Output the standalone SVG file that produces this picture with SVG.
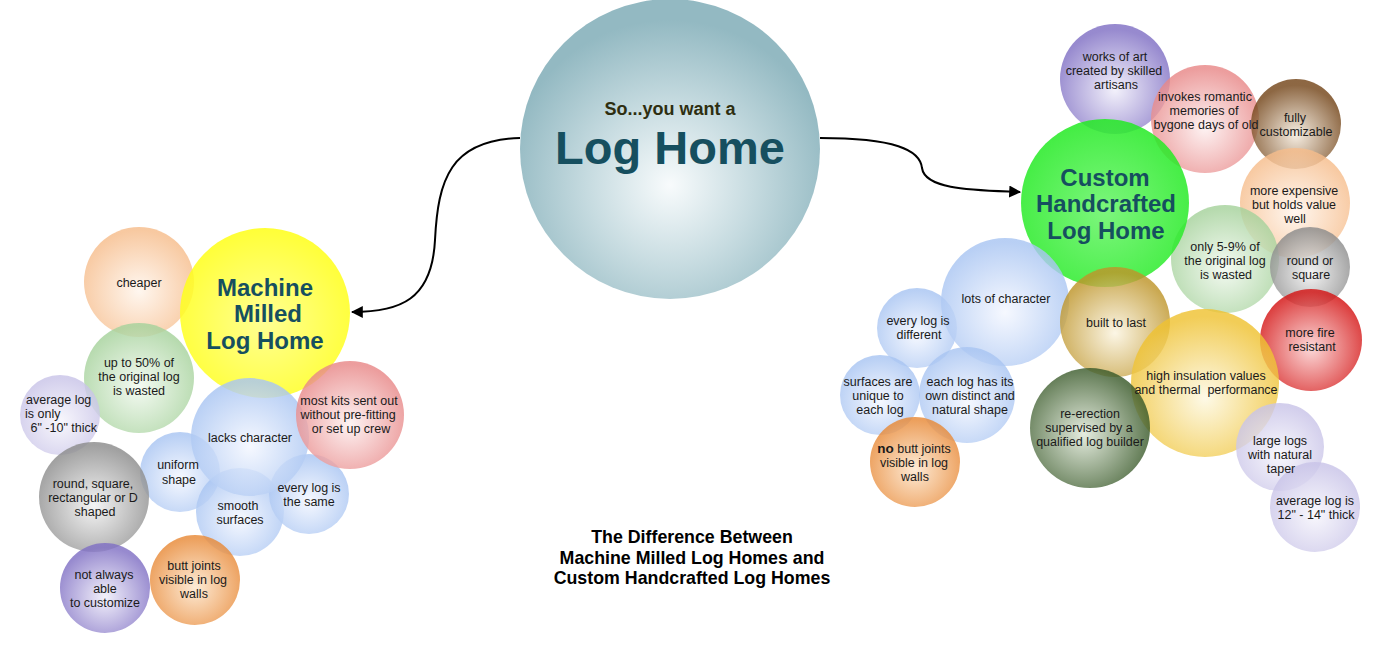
<svg xmlns="http://www.w3.org/2000/svg" width="1381" height="654" viewBox="0 0 1381 654">
<style>
.b{fill-opacity:0.82}
.t{font-family:"Liberation Sans",Arial,sans-serif;font-size:12.5px;fill:#1a1a1a;text-anchor:middle}
.h{font-family:"Liberation Sans",Arial,sans-serif;font-size:24px;font-weight:bold;fill:#164f5f;text-anchor:middle}
.ttl{font-family:"Liberation Sans",Arial,sans-serif;font-size:17.8px;font-weight:bold;fill:#000;text-anchor:middle}
.con{fill:none;stroke:#000;stroke-width:2}
</style>
<defs>
<marker id="ah" viewBox="0 0 10 10" refX="9" refY="5" markerWidth="6" markerHeight="6" orient="auto-start-reverse" markerUnits="strokeWidth">
<path d="M0,0 L10,5 L0,10 z" fill="#000"/>
</marker>
<radialGradient id="gMain" cx="50%" cy="62%" r="55%"><stop offset="0" stop-color="#f8fbfc"/><stop offset="0.5" stop-color="#c6dbe0"/><stop offset="1" stop-color="#93b9c2"/></radialGradient>
<radialGradient id="gBlue" cx="50%" cy="58%" r="55%"><stop offset="0" stop-color="#f4f7ff"/><stop offset="1" stop-color="#a9c5f2"/></radialGradient>
<radialGradient id="gPeach" cx="50%" cy="58%" r="55%"><stop offset="0" stop-color="#fff5ec"/><stop offset="1" stop-color="#f6bd8c"/></radialGradient>
<radialGradient id="gLGreen" cx="50%" cy="58%" r="55%"><stop offset="0" stop-color="#f2f9f0"/><stop offset="1" stop-color="#a6d29c"/></radialGradient>
<radialGradient id="gLav" cx="50%" cy="58%" r="55%"><stop offset="0" stop-color="#f7f6fc"/><stop offset="1" stop-color="#c9c4e8"/></radialGradient>
<radialGradient id="gPink" cx="50%" cy="58%" r="55%"><stop offset="0" stop-color="#fdf0f0"/><stop offset="1" stop-color="#e88888"/></radialGradient>
<radialGradient id="gGray" cx="50%" cy="58%" r="55%"><stop offset="0" stop-color="#f2f2f2"/><stop offset="1" stop-color="#8c8c8c"/></radialGradient>
<radialGradient id="gPurple" cx="50%" cy="60%" r="55%"><stop offset="0" stop-color="#f0eefa"/><stop offset="1" stop-color="#8070c4"/></radialGradient>
<radialGradient id="gOrange" cx="50%" cy="58%" r="55%"><stop offset="0" stop-color="#fde6cc"/><stop offset="1" stop-color="#e88a38"/></radialGradient>
<radialGradient id="gBrown" cx="50%" cy="62%" r="55%"><stop offset="0" stop-color="#f4eadc"/><stop offset="1" stop-color="#74461a"/></radialGradient>
<radialGradient id="gRed" cx="50%" cy="58%" r="55%"><stop offset="0" stop-color="#fbd0d0"/><stop offset="1" stop-color="#d41414"/></radialGradient>
<radialGradient id="gGold" cx="50%" cy="60%" r="55%"><stop offset="0" stop-color="#fbf4e0"/><stop offset="1" stop-color="#be952a"/></radialGradient>
<radialGradient id="gYel" cx="50%" cy="60%" r="55%"><stop offset="0" stop-color="#fdf8e2"/><stop offset="1" stop-color="#efc232"/></radialGradient>
<radialGradient id="gDGreen" cx="45%" cy="55%" r="55%"><stop offset="0" stop-color="#dfe8d8"/><stop offset="1" stop-color="#3a5a2a"/></radialGradient>
<radialGradient id="gYMain" cx="50%" cy="55%" r="55%"><stop offset="0" stop-color="#ffff80"/><stop offset="1" stop-color="#ffff14"/></radialGradient>
<radialGradient id="gGMain" cx="50%" cy="55%" r="55%"><stop offset="0" stop-color="#66f466"/><stop offset="1" stop-color="#22ea22"/></radialGradient>
</defs>

<g id="connectors">
<path class="con" d="M520,138 C450,140 438,180 435,240 C432,300 400,312 352,312" marker-end="url(#ah)"/>
<path class="con" d="M820,138 C895,138 920,150 922,168 C925,190 975,190 1020,192" marker-end="url(#ah)"/>
</g>

<g id="main">
<circle cx="670" cy="149" r="150" fill="url(#gMain)"/>
<text x="670" y="115" style="font-family:'Liberation Sans',Arial,sans-serif;font-size:18px;font-weight:bold;fill:#2e2e10;text-anchor:middle">So...you want a</text>
<text x="670" y="164" style="font-family:'Liberation Sans',Arial,sans-serif;font-size:47px;font-weight:bold;fill:#164f5f;text-anchor:middle">Log Home</text>
</g>

<!-- Bubbles (shapes) -->
<g id="cheaper"><circle class="b" cx="139" cy="282" r="55" fill="url(#gPeach)"/></g>
<g id="wasted50"><circle class="b" cx="139" cy="378" r="55" fill="url(#gLGreen)"/></g>
<g id="avg6"><circle class="b" cx="60" cy="415" r="40" fill="url(#gLav)"/></g>
<g id="machine"><circle cx="265" cy="313" r="85" fill="url(#gYMain)" fill-opacity="0.85"/></g>
<g id="uniform"><circle class="b" cx="180" cy="472" r="40" fill="url(#gBlue)"/></g>
<g id="smooth"><circle class="b" cx="240" cy="512" r="44" fill="url(#gBlue)"/></g>
<g id="same"><circle class="b" cx="309" cy="494" r="40" fill="url(#gBlue)"/></g>
<g id="lacks"><circle class="b" cx="250" cy="437" r="59" fill="url(#gBlue)"/></g>
<g id="kits"><circle class="b" cx="350" cy="415" r="54" fill="url(#gPink)"/></g>
<g id="roundD"><circle class="b" cx="94" cy="497" r="55" fill="url(#gGray)"/></g>
<g id="notalways"><circle class="b" cx="105" cy="588" r="45" fill="url(#gPurple)"/></g>
<g id="buttL"><circle class="b" cx="195" cy="580" r="45" fill="url(#gOrange)"/></g>

<g id="art"><circle class="b" cx="1115" cy="79" r="55" fill="url(#gPurple)"/></g>
<g id="romantic"><circle class="b" cx="1205" cy="119" r="54" fill="url(#gPink)"/></g>
<g id="customizable"><circle class="b" cx="1296" cy="124" r="45" fill="url(#gBrown)"/></g>
<g id="expensive"><circle class="b" cx="1295" cy="203" r="55" fill="url(#gPeach)"/></g>
<g id="wasted5"><circle class="b" cx="1225" cy="259" r="54" fill="url(#gLGreen)"/></g>
<g id="roundsq"><circle class="b" cx="1310" cy="267" r="40" fill="url(#gGray)"/></g>
<g id="fire"><circle class="b" cx="1311" cy="340" r="51" fill="url(#gRed)"/></g>
<g id="custom"><circle cx="1105" cy="203" r="84" fill="url(#gGMain)" fill-opacity="0.85"/></g>
<g id="different"><circle class="b" cx="917" cy="328" r="40" fill="url(#gBlue)"/></g>
<g id="lots"><circle class="b" cx="1005" cy="302" r="64" fill="url(#gBlue)"/></g>
<g id="unique"><circle class="b" cx="880" cy="395" r="40" fill="url(#gBlue)"/></g>
<g id="distinct"><circle class="b" cx="967" cy="395" r="48" fill="url(#gBlue)"/></g>
<g id="buttR"><circle class="b" cx="915" cy="462" r="45" fill="url(#gOrange)"/></g>
<g id="built"><circle class="b" cx="1115" cy="322" r="55" fill="url(#gGold)"/></g>
<g id="insulation"><circle class="b" cx="1205" cy="383" r="74" fill="url(#gYel)"/></g>
<g id="reerection"><circle class="b" cx="1090" cy="428" r="60" fill="url(#gDGreen)"/></g>
<g id="large"><circle class="b" cx="1280" cy="447" r="44" fill="url(#gLav)"/></g>
<g id="avg12"><circle class="b" cx="1315" cy="507" r="45" fill="url(#gLav)"/></g>

<!-- Labels (drawn on top of all bubbles) -->
<g id="labels">
<g id="cheaper-label"><text class="t" x="139" y="287">cheaper</text></g>
<g id="wasted50-label"><text class="t" x="139" y="367">up to 50% of</text><text class="t" x="139" y="381">the original log</text><text class="t" x="139" y="395">is wasted</text></g>
<g id="avg6-label"><text class="t" x="26" y="404" style="text-anchor:start">average log</text><text class="t" x="25" y="418" style="text-anchor:start">is only</text><text class="t" x="27" y="432" style="text-anchor:start" xml:space="preserve"> 6" -10" thick</text></g>
<g id="machine-label"><text class="h" x="265" y="296">Machine</text><text class="h" x="268" y="322">Milled</text><text class="h" x="265" y="349">Log Home</text></g>
<g id="uniform-label"><text class="t" x="178" y="469">uniform</text><text class="t" x="179" y="484">shape</text></g>
<g id="smooth-label"><text class="t" x="238" y="510">smooth</text><text class="t" x="240" y="524">surfaces</text></g>
<g id="same-label"><text class="t" x="309" y="492">every log is</text><text class="t" x="309" y="506">the same</text></g>
<g id="lacks-label"><text class="t" x="250" y="442">lacks character</text></g>
<g id="kits-label"><text class="t" x="349" y="405">most kits sent out</text><text class="t" x="348" y="419">without pre-fitting</text><text class="t" x="351" y="433">or set up crew</text></g>
<g id="roundD-label"><text class="t" x="93" y="488">round, square,</text><text class="t" x="93" y="502">rectangular or D</text><text class="t" x="95" y="516">shaped</text></g>
<g id="notalways-label"><text class="t" x="104" y="579">not always</text><text class="t" x="105" y="593">able</text><text class="t" x="105" y="607">to customize</text></g>
<g id="buttL-label"><text class="t" x="194" y="570">butt joints</text><text class="t" x="193" y="584">visible in log</text><text class="t" x="194" y="598">walls</text></g>

<g id="art-label"><text class="t" x="1115" y="61">works of art</text><text class="t" x="1114" y="75">created by skilled</text><text class="t" x="1116" y="89">artisans</text></g>
<g id="romantic-label"><text class="t" x="1205" y="101">invokes romantic</text><text class="t" x="1204" y="115">memories of</text><text class="t" x="1206" y="129">bygone days of old</text></g>
<g id="customizable-label"><text class="t" x="1295" y="122">fully</text><text class="t" x="1296" y="136">customizable</text></g>
<g id="expensive-label"><text class="t" x="1294" y="195">more expensive</text><text class="t" x="1294" y="209">but holds value</text><text class="t" x="1295" y="223">well</text></g>
<g id="wasted5-label"><text class="t" x="1225" y="251">only 5-9% of</text><text class="t" x="1225" y="265">the original log</text><text class="t" x="1226" y="279">is wasted</text></g>
<g id="roundsq-label"><text class="t" x="1310" y="265">round or</text><text class="t" x="1311" y="279">square</text></g>
<g id="fire-label"><text class="t" x="1310" y="337">more fire</text><text class="t" x="1312" y="351">resistant</text></g>
<g id="custom-label"><text class="h" x="1105" y="186">Custom</text><text class="h" x="1106" y="212">Handcrafted</text><text class="h" x="1106" y="239">Log Home</text></g>
<g id="different-label"><text class="t" x="918" y="325">every log is</text><text class="t" x="919" y="339">different</text></g>
<g id="lots-label"><text class="t" x="1006" y="303">lots of character</text></g>
<g id="unique-label"><text class="t" x="878" y="386">surfaces are</text><text class="t" x="878" y="400">unique to</text><text class="t" x="880" y="414">each log</text></g>
<g id="distinct-label"><text class="t" x="970" y="386">each log has its</text><text class="t" x="970" y="400">own distinct and</text><text class="t" x="970" y="414">natural shape</text></g>
<g id="buttR-label"><text class="t" x="914" y="453"><tspan font-weight="bold" font-size="13.5">no</tspan> butt joints</text><text class="t" x="914" y="467">visible in log</text><text class="t" x="915" y="481">walls</text></g>
<g id="built-label"><text class="t" x="1116" y="327">built to last</text></g>
<g id="insulation-label"><text class="t" x="1206" y="380">high insulation values</text><text class="t" x="1206" y="394" xml:space="preserve">and thermal  performance</text></g>
<g id="reerection-label"><text class="t" x="1090" y="418">re-erection</text><text class="t" x="1089" y="432">supervised by a</text><text class="t" x="1090" y="446">qualified log builder</text></g>
<g id="large-label"><text class="t" x="1280" y="445">large logs</text><text class="t" x="1280" y="459">with natural</text><text class="t" x="1281" y="473">taper</text></g>
<g id="avg12-label"><text class="t" x="1315" y="505">average log is</text><text class="t" x="1316" y="519">12" - 14" thick</text></g>
</g>

<g id="title">
<text class="ttl" x="692" y="543">The Difference Between</text>
<text class="ttl" x="692" y="564">Machine Milled Log Homes and</text>
<text class="ttl" x="692" y="584">Custom Handcrafted Log Homes</text>
</g>
</svg>
